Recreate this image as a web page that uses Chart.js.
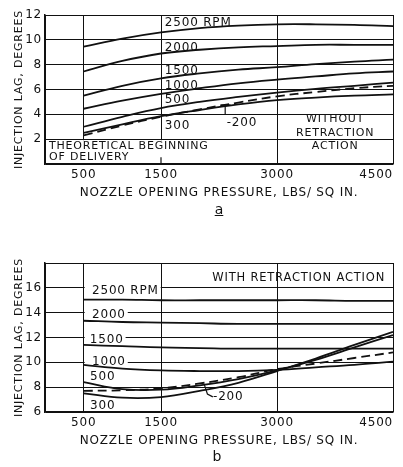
<!DOCTYPE html>
<html lang="en">
<head>
<meta charset="UTF-8">
<title>Injection lag vs nozzle opening pressure</title>
<script src="https://cdn.jsdelivr.net/npm/chart.js"></script>
<style>
  body {
    margin: 0;
    width: 403px;
    height: 467px;
    background: #ffffff;
    position: relative;
    overflow: hidden;
    font-family: 'DejaVu Sans', sans-serif;
    color: #111111;
  }
  .panel { position: absolute; left: 0; width: 403px; height: 210px; }
  #panelA { top: 0; }
  #panelB { top: 248px; }
  .tag { position: absolute; width: 20px; text-align: center; font-size: 14px; line-height: 14px; }
  #tagA { left: 209px; top: 202px; text-decoration: underline; }
  #tagB { left: 207px; top: 449px; }
</style>
</head>
<body>
  <div class="panel" id="panelA"><canvas id="chartA"></canvas></div>
  <div class="tag" id="tagA">a</div>
  <div class="panel" id="panelB"><canvas id="chartB"></canvas></div>
  <div class="tag" id="tagB">b</div>

  <script>
    // nozzle opening pressure, lbs/sq in
    const pressure = [500, 1000, 1500, 2000, 2500, 3000, 3500, 4000, 4500];
    const xTicks = [0, 500, 1500, 3000, 4500];

    // a - without retraction action (injection lag, degrees)
    const lagA2500 = [9.45, 10.1, 10.6, 10.95, 11.15, 11.25, 11.25, 11.2, 11.1];
    const lagA2000 = [7.45, 8.3, 8.9, 9.2, 9.4, 9.5, 9.6, 9.6, 9.6];
    const lagA1500 = [5.5, 6.3, 6.9, 7.3, 7.6, 7.8, 8.05, 8.25, 8.4];
    const lagA1000 = [4.45, 5.1, 5.65, 6.1, 6.5, 6.8, 7.05, 7.3, 7.45];
    const lagA500 = [3.0, 3.8, 4.5, 5.0, 5.4, 5.75, 6.05, 6.3, 6.55];
    const lagA300 = [2.5, 3.2, 3.85, 4.35, 4.8, 5.15, 5.35, 5.5, 5.6];
    const lagA200 = [2.3, 3.1, 3.8, 4.4, 4.95, 5.45, 5.8, 6.1, 6.3];
    const yTicksA = [0, 2, 4, 6, 8, 10, 12];

    // b - with retraction action
    const lagB2500 = [15.05, 15.05, 15.0, 15.0, 15.0, 15.0, 15.0, 14.95, 14.95];
    const lagB2000 = [13.35, 13.25, 13.2, 13.15, 13.1, 13.1, 13.1, 13.1, 13.1];
    const lagB1500 = [11.4, 11.3, 11.2, 11.15, 11.1, 11.1, 11.1, 11.1, 11.1];
    const lagB1000 = [9.8, 9.5, 9.35, 9.3, 9.3, 9.4, 9.6, 9.8, 10.05];
    const lagB500 = [8.4, 7.85, 7.8, 8.15, 8.65, 9.35, 10.2, 11.2, 12.2];
    const lagB300 = [7.5, 7.15, 7.2, 7.7, 8.35, 9.3, 10.3, 11.4, 12.45];
    const lagB200 = [7.7, 7.75, 7.9, 8.3, 8.8, 9.45, 9.9, 10.35, 10.8];
    const yTicksB = [6, 8, 10, 12, 14, 16, 18];

    const INK = '#111111';
    const FONT = "'DejaVu Sans', sans-serif";

    function series(vals, dashed) {
      return {
        data: pressure.map((p, i) => ({ x: p, y: vals[i] })),
        borderColor: INK,
        borderWidth: 1.8,
        borderDash: dashed ? [9, 5] : [],
        pointRadius: 0,
        fill: false,
        tension: 0.4
      };
    }

    // wider lettering, like the stencil text of the original
    const spacing = {
      id: 'spacing',
      beforeDraw(chart) { chart.ctx.letterSpacing = '0.8px'; }
    };

    // text notes placed in data coordinates
    function notesPlugin(notes, covers, extra) {
      return {
        id: 'notes',
        beforeDatasetsDraw(chart) {
          const { ctx, scales: { x, y } } = chart;
          ctx.save();
          ctx.fillStyle = '#ffffff';
          covers.forEach(c => {
            const x0 = x.getPixelForValue(c[0]), x1 = x.getPixelForValue(c[1]);
            const y0 = y.getPixelForValue(c[2]), y1 = y.getPixelForValue(c[3]);
            ctx.fillRect(x0 + 1, y0 + 1, x1 - x0 - 2, y1 - y0 - 2);
          });
          ctx.font = '12px ' + FONT;
          notes.filter(n => n.bg).forEach(n => {
            const w = ctx.measureText(n.text).width;
            const px = x.getPixelForValue(n.x);
            const left = x.getPixelForValue(500) + 1;
            ctx.fillRect(left, y.getPixelForValue(n.y) - 6, px - left + w + 2, 11);
          });
          ctx.restore();
        },
        afterDatasetsDraw(chart) {
          const { ctx, scales: { x, y } } = chart;
          ctx.save();
          ctx.fillStyle = INK;
          ctx.strokeStyle = INK;
          ctx.textBaseline = 'middle';
          notes.forEach(n => {
            ctx.font = (n.size || 12) + 'px ' + FONT;
            ctx.textAlign = n.align || 'left';
            ctx.fillText(n.text, x.getPixelForValue(n.x), y.getPixelForValue(n.y));
          });
          ctx.lineWidth = 1.2;
          extra.forEach(path => {
            ctx.beginPath();
            path.forEach((pt, i) => {
              const px = x.getPixelForValue(pt[0]), py = y.getPixelForValue(pt[1]);
              if (i === 0) ctx.moveTo(px, py); else ctx.lineTo(px, py);
            });
            ctx.stroke();
          });
          ctx.restore();
        }
      };
    }

    function makeChart(id, datasets, yMin, yMax, yTicks, plugin) {
      return new Chart(document.getElementById(id), {
        type: 'line',
        data: { datasets },
        options: {
          responsive: true,
          maintainAspectRatio: false,
          animation: false,
          layout: { padding: { top: 15, right: 10, left: 0, bottom: 6 } },
          plugins: { legend: { display: false }, tooltip: { enabled: false } },
          scales: {
            x: {
              type: 'linear',
              min: 0,
              max: 4500,
              afterBuildTicks: s => { s.ticks = xTicks.map(v => ({ value: v })); },
              afterFit: s => { s.height = 40; },
              ticks: {
                align: 'inner',
                padding: 4,
                color: INK,
                font: { family: FONT, size: 12 },
                callback: v => v === 0 ? '' : String(v)
              },
              grid: { color: INK, lineWidth: 1, drawTicks: false },
              border: { color: INK, width: 1.5 },
              title: {
                display: true,
                text: 'NOZZLE OPENING PRESSURE, LBS/ SQ IN.',
                color: INK,
                font: { family: FONT, size: 12 },
                padding: { top: 0, bottom: 4 }
              }
            },
            y: {
              min: yMin,
              max: yMax,
              afterBuildTicks: s => { s.ticks = yTicks.map(v => ({ value: v })); },
              afterFit: s => { s.width = 45; },
              ticks: {
                padding: 3,
                color: INK,
                font: { family: FONT, size: 12 },
                callback: v => (v === 0 || v === 18) ? '' : String(v)
              },
              grid: { color: INK, lineWidth: 1, drawTicks: false },
              border: { color: INK, width: 1.5 },
              title: {
                display: true,
                text: 'INJECTION LAG, DEGREES',
                color: INK,
                font: { family: FONT, size: 11 },
                padding: { top: 13 }
              }
            }
          }
        },
        plugins: [spacing, plugin]
      });
    }

    makeChart('chartA', [
      series(lagA2500), series(lagA2000), series(lagA1500), series(lagA1000),
      series(lagA500), series(lagA300), series(lagA200, true)
    ], 0, 12, yTicksA, notesPlugin([
      { text: '2500 RPM', x: 1550, y: 11.35 },
      { text: '2000', x: 1550, y: 9.34 },
      { text: '1500', x: 1550, y: 7.49 },
      { text: '1000', x: 1550, y: 6.28 },
      { text: '500', x: 1550, y: 5.15 },
      { text: '300', x: 1550, y: 3.08 },
      { text: '-200', x: 2350, y: 3.3 },
      { text: 'THEORETICAL BEGINNING', x: 52, y: 1.45, size: 11 },
      { text: 'OF DELIVERY', x: 52, y: 0.56, size: 11 },
      { text: 'WITHOUT', x: 3752, y: 3.62, align: 'center', size: 11 },
      { text: 'RETRACTION', x: 3752, y: 2.5, align: 'center', size: 11 },
      { text: 'ACTION', x: 3752, y: 1.45, align: 'center', size: 11 }
    ], [
      [0, 3000, 2, 0]
    ], [
      [[1500, 0.55], [1500, 0]],
      [[2330, 4.75], [2330, 3.95]],
      [[2270, 4.75], [2400, 4.75]]
    ]));

    makeChart('chartB', [
      series(lagB2500), series(lagB2000), series(lagB1500), series(lagB1000),
      series(lagB500), series(lagB300), series(lagB200, true)
    ], 6, 18, yTicksB, notesPlugin([
      { text: 'WITH RETRACTION ACTION', x: 4397, y: 16.79, align: 'right', size: 11.5 },
      { text: '2500 RPM', x: 608, y: 15.75, bg: true },
      { text: '2000', x: 608, y: 13.85, bg: true },
      { text: '1500', x: 580, y: 11.8, bg: true },
      { text: '1000', x: 608, y: 10.03, bg: true },
      { text: '500', x: 582, y: 8.82 },
      { text: '300', x: 582, y: 6.48 },
      { text: '-200', x: 2173, y: 7.21 }
    ], [], [
      [[2060, 8.2], [2100, 7.45], [2170, 7.22]]
    ]));
  </script>
</body>
</html>
